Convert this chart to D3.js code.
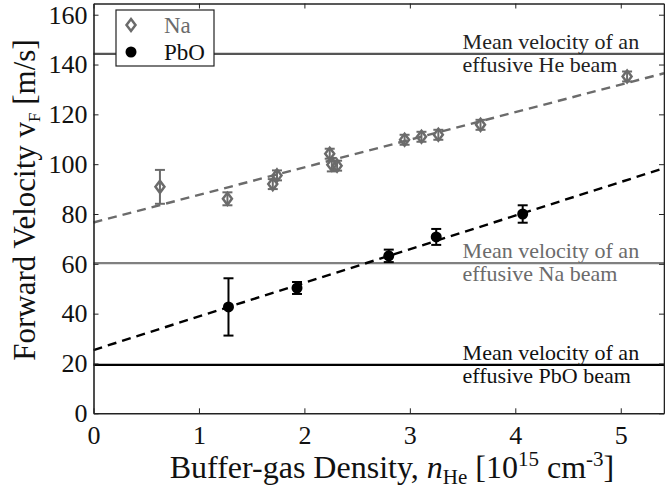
<!DOCTYPE html>
<html>
<head>
<meta charset="utf-8">
<script src="https://cdn.jsdelivr.net/npm/d3@7"></script>
<style>
  body { margin: 0; background: #fff; }
  svg { display: block; font-family: "Liberation Serif", "Times New Roman", serif; }
</style>
</head>
<body>
<div id="chart"></div>
<script>
// Na measurements (open diamonds)
const naDensity  = [0.63, 1.27, 1.70, 1.74, 2.24, 2.26, 2.31, 2.95, 3.11, 3.27, 3.67, 5.06];
const naVelocity = [90.9, 86.1, 92.0, 95.5, 104.2, 99.8, 99.4, 109.8, 111.0, 111.8, 115.8, 135.2];
const naError    = [6.8, 2.6, 2.0, 2.0, 2.0, 2.7, 2.0, 2.0, 2.0, 2.0, 2.0, 2.0];

// PbO measurements (filled circles)
const pboDensity  = [1.28, 1.93, 2.80, 3.25, 4.07];
const pboVelocity = [42.7, 50.3, 63.2, 70.8, 80.0];
const pboError    = [11.5, 2.4, 2.5, 3.2, 3.5];

// linear fits: Na, PbO
const fitIntercept = [76.6, 25.4];
const fitSlope     = [11.07, 13.49];

// effusive beam mean velocities
const beamNames    = ["He", "Na", "PbO"];
const beamVelocity = [144.3, 60.3, 19.4];

const xTicks = [0, 1, 2, 3, 4, 5];
const yTicks = [0, 20, 40, 60, 80, 100, 120, 140, 160];

const W = 665, H = 488;
const margin = {top: 3.5, right: 1, bottom: 74.7, left: 93.5};
const innerW = W - margin.left - margin.right;
const innerH = H - margin.top - margin.bottom;

const naColor = "#6b6b6b";
const beamLineColor = ["#555", "#808080", "#000"];
const beamTextColor = ["#222", "#6b6b6b", "#111"];

const x = d3.scaleLinear().domain([0, 5.41]).range([0, innerW]);
const y = d3.scaleLinear().domain([0, 164.5]).range([innerH, 0]);

const svg = d3.select("#chart").append("svg")
    .attr("width", W)
    .attr("height", H);

const g = svg.append("g")
    .attr("transform", "translate(" + margin.left + "," + margin.top + ")");

// beam reference lines
beamNames.forEach(function(name, i){
    g.append("line")
        .attr("x1", 0).attr("x2", innerW)
        .attr("y1", y(beamVelocity[i])).attr("y2", y(beamVelocity[i]))
        .attr("stroke", beamLineColor[i])
        .attr("stroke-width", 2.2);

    const tx = x(3.5);
    g.append("text")
        .attr("x", tx).attr("y", y(beamVelocity[i]) - 5)
        .attr("fill", beamTextColor[i])
        .style("font-size", "22px")
        .text("Mean velocity of an");
    g.append("text")
        .attr("x", tx).attr("y", y(beamVelocity[i]) + 18)
        .attr("fill", beamTextColor[i])
        .style("font-size", "22px")
        .text("effusive " + name + " beam");
});

// fit lines
const fitColors = [naColor, "#000"];
fitIntercept.forEach(function(b, i){
    const xs = x.domain();
    g.append("line")
        .attr("x1", x(xs[0])).attr("y1", y(b + fitSlope[i] * xs[0]))
        .attr("x2", x(xs[1])).attr("y2", y(b + fitSlope[i] * xs[1]))
        .attr("stroke", fitColors[i])
        .attr("stroke-width", 2.4)
        .attr("stroke-dasharray", "9,6");
});

// error bars
function errorBars(xs, ys, es, color){
    const cap = 5;
    xs.forEach(function(d, i){
        const cx = x(d), top = y(ys[i] + es[i]), bot = y(ys[i] - es[i]);
        const eb = g.append("g").attr("stroke", color).attr("stroke-width", 2);
        eb.append("line").attr("x1", cx).attr("x2", cx).attr("y1", top).attr("y2", bot);
        eb.append("line").attr("x1", cx - cap).attr("x2", cx + cap).attr("y1", top).attr("y2", top);
        eb.append("line").attr("x1", cx - cap).attr("x2", cx + cap).attr("y1", bot).attr("y2", bot);
    });
}
errorBars(naDensity, naVelocity, naError, naColor);
errorBars(pboDensity, pboVelocity, pboError, "#000");

function diamond(cx, cy){
    return "M" + cx + "," + (cy - 6) + "L" + (cx + 4.5) + "," + cy +
        "L" + cx + "," + (cy + 6) + "L" + (cx - 4.5) + "," + cy + "Z";
}

g.selectAll(".na")
    .data(naDensity)
    .enter().append("path")
    .attr("class", "na")
    .attr("d", function(d, i){ return diamond(x(d), y(naVelocity[i])); })
    .attr("fill", "none")
    .attr("stroke", naColor)
    .attr("stroke-width", 2.5);

g.selectAll(".pbo")
    .data(pboDensity)
    .enter().append("circle")
    .attr("class", "pbo")
    .attr("cx", function(d){ return x(d); })
    .attr("cy", function(d, i){ return y(pboVelocity[i]); })
    .attr("r", 5.5)
    .attr("fill", "#000");

// axes, ticks pointing inward, mirrored on top and right
const axisColor = "#222";
function styleAxis(sel){
    sel.attr("font-family", null);
    sel.select(".domain").attr("stroke", axisColor).attr("stroke-width", 1.6);
    sel.selectAll(".tick line").attr("stroke", axisColor).attr("stroke-width", 1);
    sel.selectAll(".tick text").attr("fill", "#111").style("font-size", "26px");
}

g.append("g")
    .attr("transform", "translate(0," + innerH + ")")
    .call(d3.axisBottom(x).tickValues(xTicks).tickFormat(d3.format("d"))
        .tickSizeInner(-5).tickSizeOuter(0).tickPadding(12))
    .call(styleAxis);

g.append("g")
    .call(d3.axisLeft(y).tickValues(yTicks).tickFormat(d3.format("d"))
        .tickSizeInner(-5).tickSizeOuter(0).tickPadding(6))
    .call(styleAxis);

g.append("g")
    .call(d3.axisTop(x).tickValues(xTicks).tickFormat("")
        .tickSizeInner(-5).tickSizeOuter(0))
    .call(styleAxis);

g.append("g")
    .attr("transform", "translate(" + innerW + ",0)")
    .call(d3.axisRight(y).tickValues(yTicks).tickFormat("")
        .tickSizeInner(-5).tickSizeOuter(0))
    .call(styleAxis);

// legend
const lg = g.append("g").attr("transform", "translate(" + (116 - margin.left) + "," + (10 - margin.top) + ")");
lg.append("rect")
    .attr("width", 98).attr("height", 56)
    .attr("fill", "#fff")
    .attr("stroke", axisColor)
    .attr("stroke-width", 1.2);
lg.append("path")
    .attr("d", diamond(15, 15))
    .attr("fill", "none")
    .attr("stroke", naColor)
    .attr("stroke-width", 2.5);
lg.append("circle").attr("cx", 15).attr("cy", 42).attr("r", 5.5).attr("fill", "#000");
lg.append("text").attr("x", 48).attr("y", 23).attr("fill", naColor)
    .style("font-size", "23px").text("Na");
lg.append("text").attr("x", 48).attr("y", 50).attr("fill", "#111")
    .style("font-size", "23px").text("PbO");

// axis titles
const yt = svg.append("text")
    .attr("transform", "translate(35," + 200 + ") rotate(-90)")
    .attr("text-anchor", "middle")
    .attr("fill", "#111")
    .style("font-size", "31px");
yt.append("tspan").text("Forward Velocity v");
yt.append("tspan").attr("dy", 5).style("font-size", "17px").text("F");
yt.append("tspan").attr("dy", -5).text(" [m/s]");

const xt = svg.append("text")
    .attr("x", 392).attr("y", 478)
    .attr("text-anchor", "middle")
    .attr("fill", "#111")
    .style("font-size", "32px");
xt.append("tspan").text("Buffer-gas Density, ");
xt.append("tspan").style("font-style", "italic").text("n");
xt.append("tspan").attr("dy", 6).style("font-size", "21px").text("He");
xt.append("tspan").attr("dy", -6).text(" [10");
xt.append("tspan").attr("dy", -12).style("font-size", "21px").text("15");
xt.append("tspan").attr("dy", 12).text(" cm");
xt.append("tspan").attr("dy", -12).style("font-size", "21px").text("-3");
xt.append("tspan").attr("dy", 12).text("]");
</script>
</body>
</html>
